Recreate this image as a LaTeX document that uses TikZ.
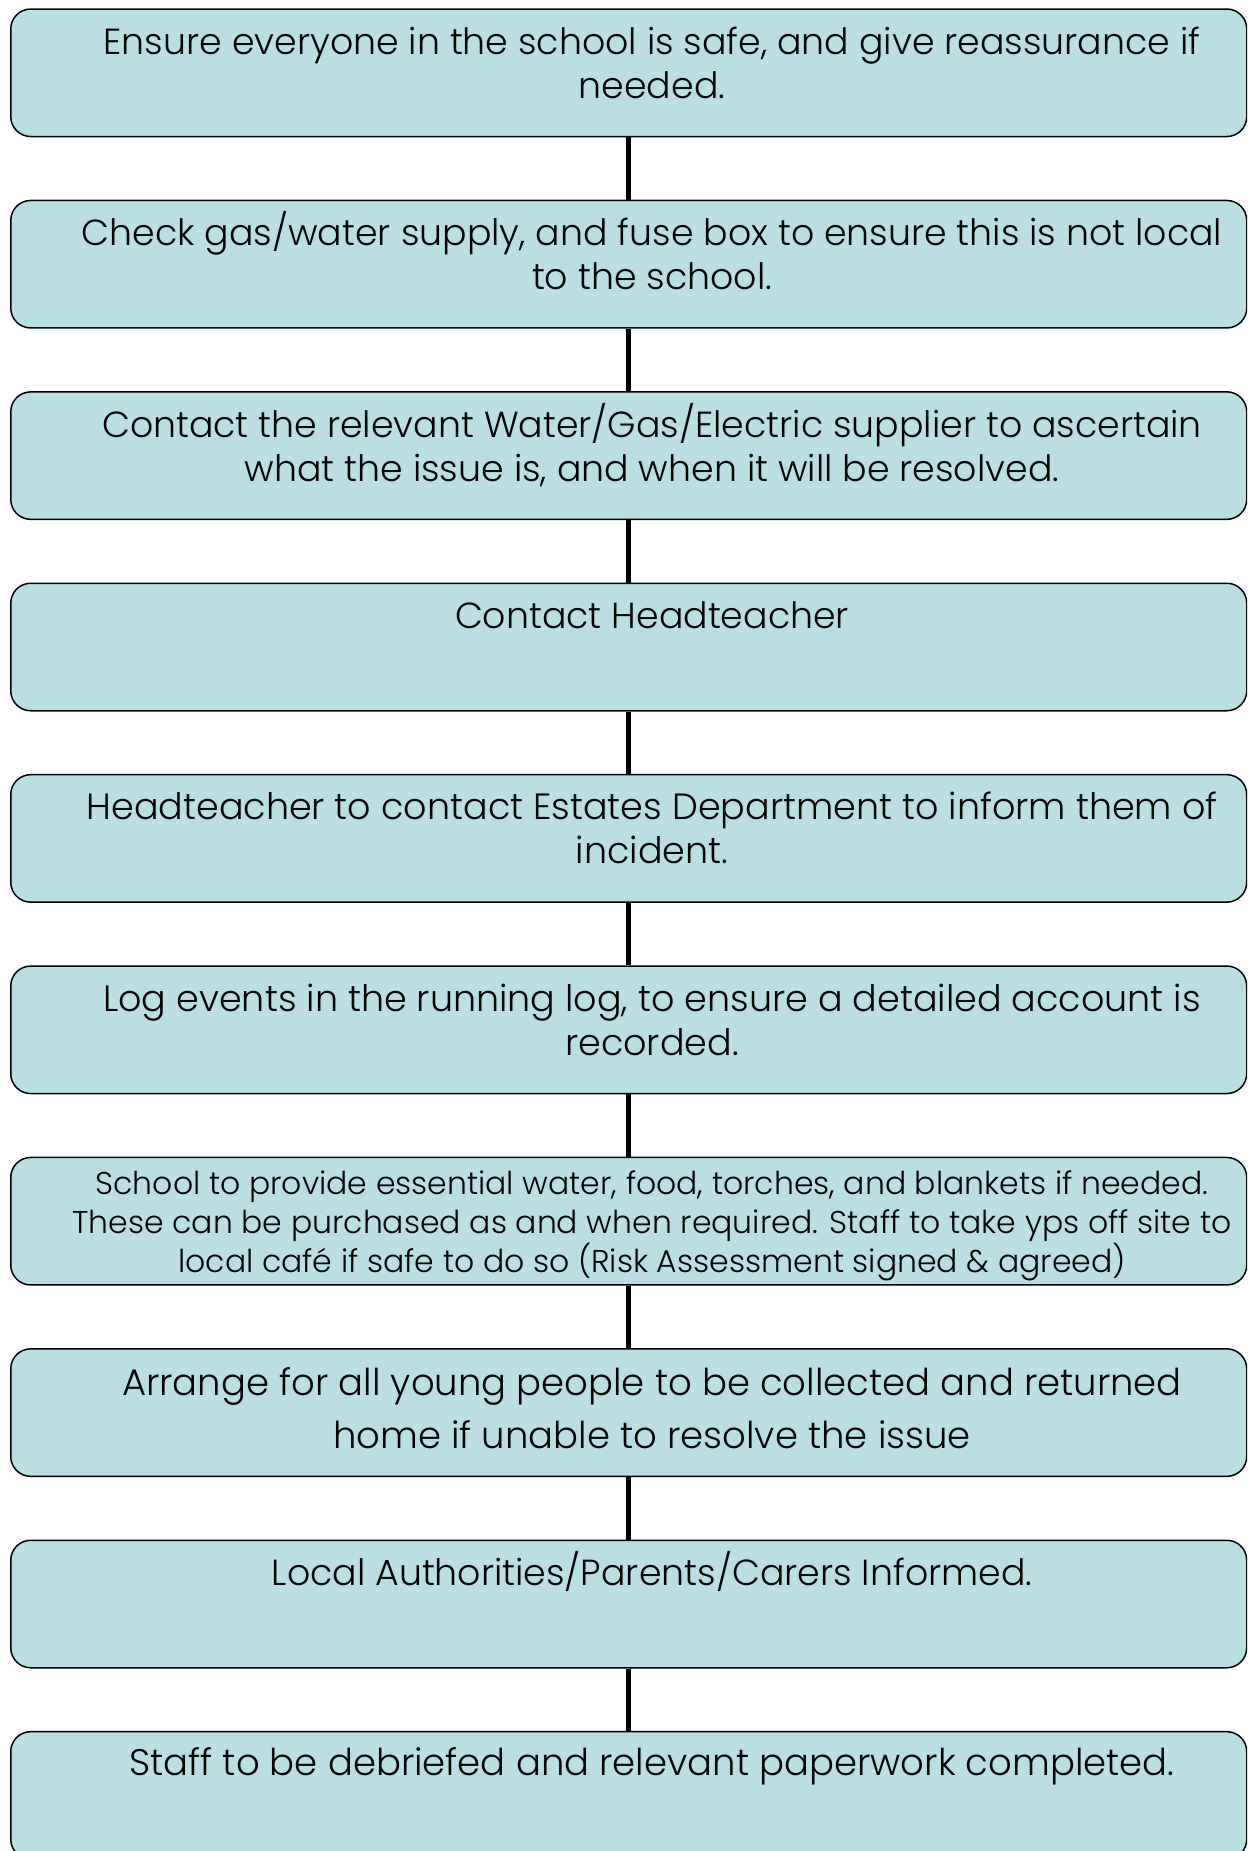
\documentclass[tikz,border=0pt]{standalone}
\usepackage{fontspec}
\setmainfont{Poppins}[UprightFont=* Light]
\definecolor{boxfill}{RGB}{186,223,226}
\newcommand{\boxtext}[3]{\parbox[t]{1230pt}{\centering\fontsize{#1}{#2}\selectfont #3}}
\begin{document}
\begin{tikzpicture}[x=1pt,y=-1pt,
  stepbox/.style={draw=black, line width=1.5pt, fill=boxfill, rounded corners=20pt,
    minimum width=1236pt, minimum height=127.5pt, anchor=north west, inner sep=0pt},
  link/.style={line width=5pt, black},
  txt/.style={anchor=base, inner sep=0pt}]
\useasboundingbox (0,0) rectangle (1247,1851);
\clip (0,0) rectangle (1247,1851);
\node[stepbox] (b1) at (10,8.3) {};
\node[stepbox] (b2) at (10,199.7) {};
\node[stepbox] (b3) at (10,391.1) {};
\node[stepbox] (b4) at (10,582.5) {};
\node[stepbox] (b5) at (10,773.9) {};
\node[stepbox] (b6) at (10,965.3) {};
\node[stepbox] (b7) at (10,1156.7) {};
\node[stepbox] (b8) at (10,1348.1) {};
\node[stepbox] (b9) at (10,1539.5) {};
\node[stepbox] (b10) at (10,1730.9) {};
\foreach \a/\b in {b1/b2,b2/b3,b3/b4,b4/b5,b5/b6,b6/b7,b7/b8,b8/b9,b9/b10}
  \draw[link] (\a.south) -- (\b.north);
\node[txt] (t1) at (652,54.3) {\boxtext{36.3}{44}{Ensure everyone in the school is safe, and give reassurance if\\needed.}};
\node[txt] (t2) at (652,245.7) {\boxtext{36.3}{44}{Check gas/water supply, and fuse box to ensure this is not local\\to the school.}};
\node[txt] (t3) at (652,437.1) {\boxtext{36.3}{44}{Contact the relevant Water/Gas/Electric supplier to ascertain\\what the issue is, and when it will be resolved.}};
\node[txt] (t4) at (652,628.5) {\boxtext{36.3}{44}{Contact Headteacher}};
\node[txt] (t5) at (652,819.9) {\boxtext{36.5}{44}{Headteacher to contact Estates Department to inform them of\\incident.}};
\node[txt] (t6) at (652,1011.3) {\boxtext{36.5}{44}{Log events in the running log, to ensure a detailed account is\\recorded.}};
\node[txt] (t7) at (652,1194) {\boxtext{31.5}{39}{School to provide essential water, food, torches, and blankets if needed.\\These can be purchased as and when required. Staff to take yps off site to\\local café if safe to do so (Risk Assessment signed \& agreed)}};
\node[txt] (t8) at (652,1395) {\boxtext{37}{53}{Arrange for all young people to be collected and returned\\home if unable to resolve the issue}};
\node[txt] (t9) at (652,1585.5) {\boxtext{36.3}{44}{Local Authorities/Parents/Carers Informed.}};
\node[txt] (t10) at (652,1775) {\boxtext{37}{44}{Staff to be debriefed and relevant paperwork completed.}};
\end{tikzpicture}
\end{document}
